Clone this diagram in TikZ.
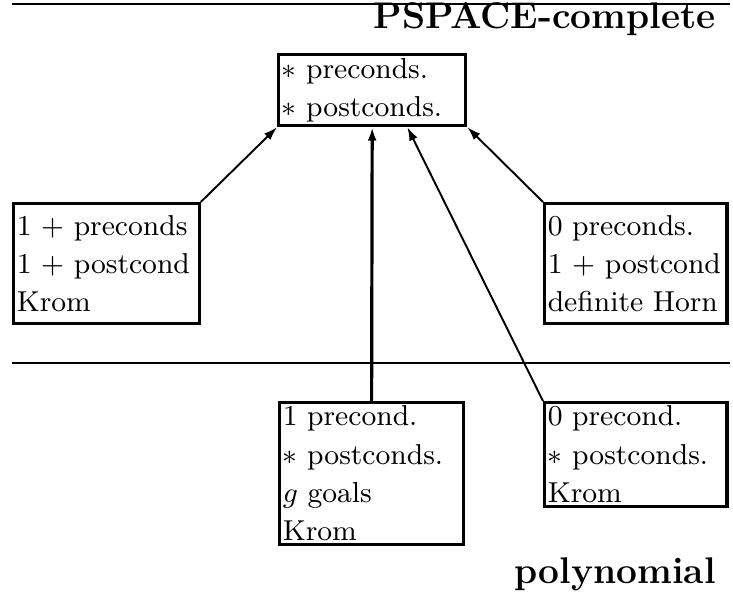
\documentclass[tikz,border=0pt]{standalone}
\usetikzlibrary{positioning,arrows.meta}
\hyphenpenalty=10000

\begin{document}
\begin{tikzpicture}[x=0.3125pt,y=-0.3125pt,
    box/.style={draw,line width=1pt,anchor=north west,align=left,inner sep=1pt,
        font=\fontsize{9}{12}\selectfont},
    arr/.style={-{Latex[length=4.2pt,width=2.8pt]},line width=0.6pt},
    cls/.style={font=\bfseries\fontsize{11.6}{14}\selectfont}]
            \useasboundingbox (0,0) rectangle (733,598);

            % class borders
            \draw[line width=0.6pt] (12,4) -- (730,4);
            \draw[line width=0.4pt] (12,363) -- (730,363);
            \node[cls,anchor=base east] (pspace) at (727,28) {PSPACE-complete};
            \node[cls,anchor=base east] (poly) at (727,583) {polynomial};

            \node[box,text width=56.5pt,minimum height=22.2pt] (top) at (277,53)
                {$*$ preconds.\\ $*$ postconds.};
            \node[box,text width=56pt,minimum height=37.5pt] (krom) at (12,202)
                {1 + preconds\\ 1 + postcond\\ Krom};
            \node[box,text width=55pt,minimum height=37.5pt] (horn) at (543,202)
                {0 preconds.\\ 1 + postcond\\ definite Horn};
            \node[box,text width=55.5pt,minimum height=43.4pt] (goals) at (278,401)
                {1 precond.\\ $*$ postconds.\\ $g$ goals\\ Krom};
            \node[box,text width=55pt,minimum height=28.7pt] (post) at (543,401)
                {0 precond.\\ $*$ postconds.\\ Krom};

            \draw[arr] (krom.north east) -- (top.south west);
            \draw[arr] (horn.north west) -- (top.south east);
            \draw[arr,line width=1pt] (goals.north) -- (top.south);
            \draw[arr] (post.north west) -- ([xshift=11pt]top.south);
        \end{tikzpicture}
\end{document}
